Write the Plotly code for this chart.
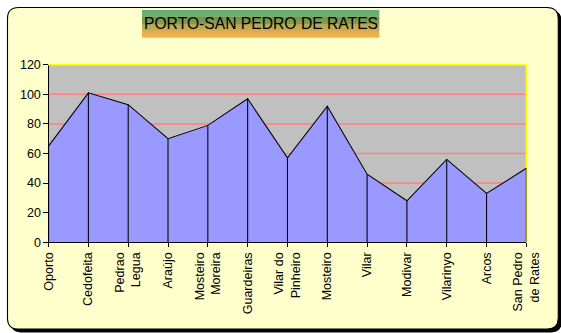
import plotly.graph_objects as go

# Stages of the route and the value recorded at each stop
stops = [
    "Oporto", "Cedofeita", "Pedrao<br>Legua", "Araújo", "Mosteiro<br>Moreira",
    "Guardeiras", "Vilar do<br>Pinheiro", "Mosteiro", "Vilar", "Modivar",
    "Vilarinyo", "Arcos", "San Pedro<br>de Rates",
]
values = [65, 101, 93, 70, 79, 97, 57, 92, 46, 28, 56, 33, 50]
y_ticks = [0, 20, 40, 60, 80, 100, 120]
title_text = "PORTO-SAN PEDRO DE RATES"

# Layout positions below are given in screen pixels of the final view.
# The page shows the figure with an 8px body margin at a zoom of ~0.957,
# so screen pixels are converted to figure pixels first.
S = 0.957
OFF = 8
W, H = 580, 342


def fx(x):
    return x / S - OFF


def px(x):
    return fx(x) / W


def py(y):
    return (H - fx(y)) / H


def fs(size):
    return size / S


def rounded_rect(x0, y0, x1, y1, r):
    return (
        f"M {px(x0 + r)} {py(y0)} L {px(x1 - r)} {py(y0)} "
        f"Q {px(x1)} {py(y0)} {px(x1)} {py(y0 + r)} "
        f"L {px(x1)} {py(y1 - r)} Q {px(x1)} {py(y1)} {px(x1 - r)} {py(y1)} "
        f"L {px(x0 + r)} {py(y1)} Q {px(x0)} {py(y1)} {px(x0)} {py(y1 - r)} "
        f"L {px(x0)} {py(y0 + r)} Q {px(x0)} {py(y0)} {px(x0 + r)} {py(y0)} Z"
    )


PLOT_L, PLOT_R, PLOT_T, PLOT_B = 49, 524.3, 65.3, 242.3
FRAME_L = OFF * S + 0.5  # leftmost/topmost screen pixel the figure can reach

fig = go.Figure()

fig.add_trace(go.Scatter(
    x=stops, y=values,
    mode="lines",
    fill="tozeroy",
    fillcolor="#9999FF",
    line=dict(color="black", width=1.05),
    error_y=dict(
        type="data", symmetric=False,
        array=[0] * len(values), arrayminus=values,
        color="black", thickness=1.05, width=0,
    ),
    hoverinfo="x+y",
    showlegend=False,
))

shapes = []
# drop shadow and chart frame
shapes.append(dict(type="path", path=rounded_rect(FRAME_L + 3, FRAME_L + 3, 559.5, 332.5, 11),
                   xref="paper", yref="paper", fillcolor="black",
                   line=dict(width=0), layer="below"))
shapes.append(dict(type="path", path=rounded_rect(FRAME_L, FRAME_L, 556, 329, 11),
                   xref="paper", yref="paper", fillcolor="#FFFFCC",
                   line=dict(color="black", width=1.1), layer="below"))
# grey plot area
shapes.append(dict(type="rect", xref="paper", yref="paper",
                   x0=px(PLOT_L), x1=px(PLOT_R), y0=py(PLOT_B), y1=py(PLOT_T),
                   fillcolor="#C0C0C0", line=dict(width=0), layer="below"))
# salmon gridlines, kept under the filled area
for v in y_ticks[1:-1]:
    shapes.append(dict(type="line", xref="x domain", yref="y",
                       x0=0, x1=1, y0=v, y1=v,
                       line=dict(color="#FF8080", width=1.5), layer="below"))
# yellow right border of the plot area
shapes.append(dict(type="line", xref="paper", yref="paper",
                   x0=px(PLOT_R), x1=px(PLOT_R), y0=py(PLOT_B), y1=py(PLOT_T),
                   line=dict(color="#FFFF00", width=1.6), layer="below"))
# yellow top border of the plot area
shapes.append(dict(type="line", xref="paper", yref="paper",
                   x0=px(PLOT_L), x1=px(PLOT_R), y0=py(PLOT_T), y1=py(PLOT_T),
                   line=dict(color="#FFFF00", width=1.6), layer="above"))

# title box with a green-to-orange vertical gradient
tx0, tx1, ty0, ty1 = 142, 378, 11, 38
top_c = (51, 153, 102)
bot_c = (248, 150, 28)
steps = 28
for i in range(steps):
    t = i / (steps - 1)
    c = tuple(round(top_c[k] + (bot_c[k] - top_c[k]) * t) for k in range(3))
    ya = ty0 + (ty1 - ty0) * i / steps
    yb = ty0 + (ty1 - ty0) * (i + 1) / steps
    shapes.append(dict(type="rect", xref="paper", yref="paper",
                       x0=px(tx0), x1=px(tx1), y0=py(yb), y1=py(ya),
                       fillcolor=f"rgb{c}", line=dict(width=0), layer="below"))

FONT = "Liberation Sans, Arial, sans-serif"

fig.update_layout(
    width=W, height=H,
    margin=dict(l=0, r=0, t=0, b=0),
    paper_bgcolor="white",
    plot_bgcolor="rgba(0,0,0,0)",
    font=dict(family=FONT, size=fs(12), color="black"),
    shapes=shapes,
    annotations=[dict(
        text=title_text, xref="paper", yref="paper",
        x=px((tx0 + tx1) / 2), y=py((ty0 + ty1) / 2),
        xanchor="center", yanchor="middle", showarrow=False,
        font=dict(family=FONT, size=fs(15), color="black"),
    )],
    xaxis=dict(
        domain=[px(PLOT_L), px(PLOT_R)],
        type="category",
        range=[0, len(stops) - 1],
        showgrid=False, zeroline=False,
        showline=True, linecolor="black", linewidth=1.05,
        ticks="outside", ticklen=fs(4), tickcolor="black", tickwidth=1.05,
        tickangle=-90,
        tickfont=dict(size=fs(12)),
        fixedrange=True,
    ),
    yaxis=dict(
        domain=[py(PLOT_B), py(PLOT_T)],
        range=[0, 120],
        tickvals=y_ticks,
        showgrid=False,
        zeroline=False,
        showline=True, linecolor="black", linewidth=1.05,
        ticks="outside", ticklen=fs(4), tickcolor="black", tickwidth=1.05,
        tickfont=dict(size=fs(12)),
        fixedrange=True,
    ),
)

fig.write_html("out.html", config={"displayModeBar": False})
